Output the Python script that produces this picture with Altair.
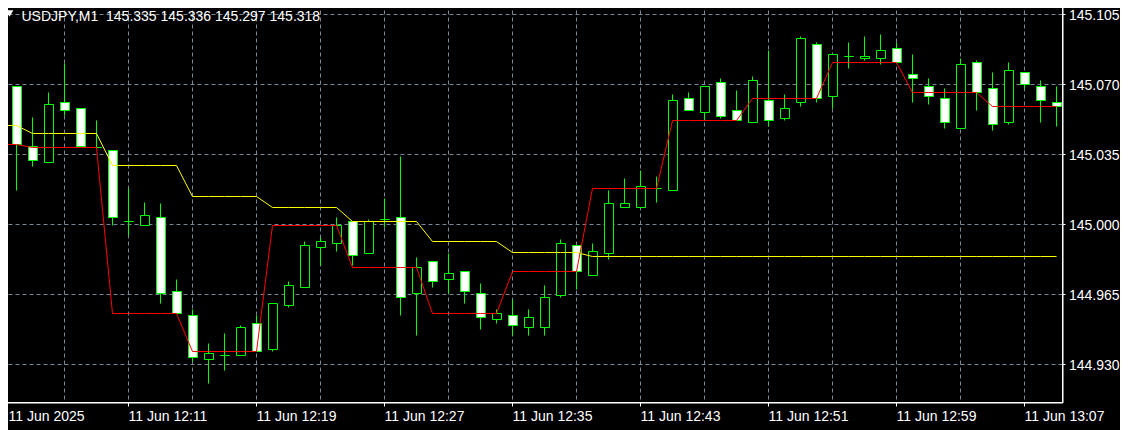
import altair as alt
import pandas as pd

# ---- data (USDJPY M1, candles 12:03 .. 13:09) ----
opens = [145.0675, 145.069, 145.039, 145.031, 145.061, 145.058, 145.0385, 145.037, 145.0015, 144.9995,
         145.0035, 144.9665, 144.9545, 144.9325, 144.9345, 144.9345, 144.9505, 144.9375, 144.9595, 144.9685,
         144.9885, 144.9905, 145.0015, 144.9855, 145.0025, 145.0035, 144.9655, 144.9815, 144.9725, 144.9765,
         144.9655, 144.9525, 144.9545, 144.9485, 144.9485, 144.9645, 144.9895, 144.9745, 144.9855, 145.0085,
         145.0085, 145.018, 145.017, 145.063, 145.056, 145.071, 145.057, 145.051, 145.062, 145.053,
         145.061, 145.090, 145.064, 145.084, 145.083, 145.083, 145.088, 145.075, 145.069, 145.063,
         145.048, 145.081, 145.068, 145.051, 145.076, 145.069, 145.061]
highs = [145.071, 145.069, 145.0535, 145.066, 145.0805, 145.058, 145.052, 145.037, 145.018, 145.011,
         145.0105, 144.9725, 144.9575, 144.9405, 144.9455, 144.9495, 144.9545, 144.9605, 144.9715, 144.9915,
         144.9935, 145.0035, 145.0015, 145.0025, 145.013, 145.034, 144.9835, 144.9815, 144.9855, 144.9765,
         144.9705, 144.9575, 144.9625, 144.9575, 144.9695, 144.9925, 144.9895, 144.9905, 145.017, 145.023,
         145.027, 145.024, 145.065, 145.066, 145.069, 145.073, 145.067, 145.074, 145.087, 145.065,
         145.094, 145.091, 145.085, 145.091, 145.094, 145.095, 145.091, 145.085, 145.073, 145.068,
         145.083, 145.082, 145.076, 145.081, 145.076, 145.072, 145.069]
lows = [145.0635, 145.017, 145.029, 145.031, 145.0545, 145.039, 145.038, 144.9995, 144.9945, 144.9995,
        144.9605, 144.9555, 144.9315, 144.9205, 144.927, 144.9345, 144.9365, 144.9365, 144.9585, 144.9685,
        144.9795, 144.9865, 144.9795, 144.9855, 144.9985, 144.9545, 144.9445, 144.9685, 144.9655, 144.9605,
        144.9475, 144.9505, 144.9445, 144.9445, 144.9445, 144.9635, 144.9675, 144.9745, 144.9825, 145.0085,
        145.0085, 145.011, 145.017, 145.057, 145.052, 145.053, 145.052, 145.051, 145.049, 145.052,
        145.059, 145.061, 145.058, 145.078, 145.082, 145.080, 145.081, 145.061, 145.060, 145.048,
        145.048, 145.057, 145.047, 145.050, 145.068, 145.051, 145.049]
closes = [145.068, 145.040, 145.032, 145.060, 145.057, 145.039, 145.0385, 145.0035, 145.0015, 145.0045,
          144.9655, 144.9555, 144.9335, 144.9355, 144.9345, 144.9485, 144.9365, 144.9605, 144.9695, 144.9895,
          144.9915, 144.9995, 144.9845, 145.0015, 145.0025, 144.9635, 144.9785, 144.9715, 144.9755, 144.9665,
          144.9535, 144.9555, 144.9495, 144.9535, 144.9635, 144.9905, 144.9765, 144.9865, 145.0105, 145.0105,
          145.019, 145.018, 145.062, 145.057, 145.069, 145.054, 145.052, 145.072, 145.052, 145.058,
          145.093, 145.063, 145.085, 145.084, 145.084, 145.087, 145.081, 145.073, 145.064, 145.051,
          145.080, 145.066, 145.050, 145.077, 145.070, 145.062, 145.059]
red_line = [145.040, 145.040,
            145.0385, 145.0385, 145.0385, 145.0385, 145.0385,
            144.9555, 144.9555, 144.9555, 144.9555, 144.9555,
            144.9365, 144.9365, 144.9365, 144.9365, 144.9365,
            144.9995, 144.9995, 144.9995, 144.9995, 144.9995,
            144.9785, 144.9785, 144.9785, 144.9785, 144.9785,
            144.9555, 144.9555, 144.9555, 144.9555, 144.9555,
            144.9765, 144.9765, 144.9765, 144.9765, 144.9765,
            145.018, 145.018, 145.018, 145.018, 145.018,
            145.052, 145.052, 145.052, 145.052, 145.052,
            145.063, 145.063, 145.063, 145.063, 145.063,
            145.081, 145.081, 145.081, 145.081, 145.081,
            145.066, 145.066, 145.066, 145.066, 145.066,
            145.059, 145.059, 145.059, 145.059, 145.059]
yellow_line = [145.0495, 145.0495,
               145.0455, 145.0455, 145.0455, 145.0455, 145.0455,
               145.0295, 145.0295, 145.0295, 145.0295, 145.0295,
               145.014, 145.014, 145.014, 145.014, 145.014,
               145.0085, 145.0085, 145.0085, 145.0085, 145.0085,
               145.0015, 145.0015, 145.0015, 145.0015, 145.0015,
               144.9915, 144.9915, 144.9915, 144.9915, 144.9915,
               144.986, 144.986, 144.986, 144.986, 144.986,
               144.984, 144.984, 144.984, 144.984, 144.984, 144.984, 144.984, 144.984, 144.984, 144.984,
               144.984, 144.984, 144.984, 144.984, 144.984, 144.984, 144.984, 144.984, 144.984, 144.984,
               144.984, 144.984, 144.984, 144.984, 144.984, 144.984, 144.984, 144.984, 144.984, 144.984]
time_labels = ["11 Jun 2025", "11 Jun 12:11", "11 Jun 12:19", "11 Jun 12:27", "11 Jun 12:35",
               "11 Jun 12:43", "11 Jun 12:51", "11 Jun 12:59", "11 Jun 13:07"]
time_label_bars = [0, 8, 16, 24, 32, 40, 48, 56, 64]
grid_bars = [4, 8, 12, 16, 20, 24, 28, 32, 36, 40, 44, 48, 52, 56, 60, 64]
price_ticks = [144.930, 144.965, 145.000, 145.035, 145.070, 145.105]
title_text = "USDJPY,M1\u00a0\u00a0145.335 145.336 145.297 145.318"

n = len(opens)
df = pd.DataFrame({
    "i": list(range(n)), "o": opens, "h": highs, "l": lows, "c": closes,
    "red": red_line, "yellow": yellow_line,
})
df["dir"] = ["up" if c > o else "down" for o, c in zip(opens, closes)]

FONT = "Liberation Sans"
xscale = alt.Scale(domain=[0, 66.375], nice=False, zero=False)
yscale = alt.Scale(domain=[144.911, 145.1105], nice=False, zero=False)

# the first label (at the very left edge) is drawn as a separate text so it is not cut by the page margin
label_expr = ("datum.value == 0 ? '' : [" + ",".join("'%s'" % t for t in time_labels)
              + "][round(datum.value/8)]")
xaxis = alt.Axis(values=time_label_bars, labelExpr=label_expr, labelAlign="left",
                 labelBaseline="alphabetic", labelFlush=False, labelOverlap=False,
                 labelPadding=14, tickSize=4, tickColor="white", domainColor="white",
                 labelColor="white", labelFont=FONT, labelFontSize=14, grid=False,
                 title=None, translate=0)
yaxis = alt.Axis(orient="right", values=price_ticks, format=".3f", tickSize=3, labelPadding=3.5,
                 labelOffset=1.5, tickColor="white", domainColor="white", labelColor="white",
                 labelFont=FONT, labelFontSize=14, labelOverlap=False, labelFlush=False,
                 grid=False, title=None, translate=0)

GRID = "#778899"
vgrid = alt.Chart(pd.DataFrame({"i": grid_bars})).mark_rule(
    color=GRID, strokeWidth=1, strokeDash=[4, 3], clip=True
).encode(x=alt.X("i:Q", scale=xscale, axis=xaxis))
hgrid = alt.Chart(pd.DataFrame({"l": price_ticks})).mark_rule(
    color=GRID, strokeWidth=1, strokeDash=[4, 3], clip=True
).encode(y=alt.Y("l:Q", scale=yscale, axis=yaxis))

base = alt.Chart(df)
wicks = base.mark_rule(color="#00ff00", strokeWidth=1, clip=True).encode(
    x=alt.X("i:Q", scale=xscale, axis=xaxis),
    y=alt.Y("l:Q", scale=yscale, axis=yaxis),
    y2="h:Q",
)
bodies = base.transform_calculate(
    x0="datum.i - 0.25", x1="datum.i + 0.3125"
).mark_rect(stroke="#00ff00", strokeWidth=1, clip=True).encode(
    x=alt.X("x0:Q", scale=xscale, axis=xaxis),
    x2="x1:Q",
    y=alt.Y("o:Q", scale=yscale, axis=yaxis),
    y2="c:Q",
    fill=alt.Fill("dir:N", scale=alt.Scale(domain=["up", "down"], range=["#000000", "#ffffff"]),
                  legend=None),
)
yellow = base.mark_line(color="#ffff00", strokeWidth=1, clip=True).encode(
    x=alt.X("i:Q", scale=xscale, axis=xaxis),
    y=alt.Y("yellow:Q", scale=yscale, axis=yaxis),
)
red = base.mark_line(color="#ff0000", strokeWidth=1, clip=True).encode(
    x=alt.X("i:Q", scale=xscale, axis=xaxis),
    y=alt.Y("red:Q", scale=yscale, axis=yaxis),
)
title_df = pd.DataFrame({"t": [title_text]})
title = alt.Chart(title_df).mark_text(
    align="left", baseline="alphabetic", color="white", font=FONT, fontSize=14
).encode(text="t:N", x=alt.value(21), y=alt.value(17.5))
tri = alt.Chart(title_df).mark_point(
    shape="triangle-down", filled=True, color="white", opacity=1, size=60
).encode(x=alt.value(9), y=alt.value(10))
first_label = alt.Chart(pd.DataFrame({"t": time_labels[:1]})).mark_text(
    align="left", baseline="alphabetic", color="white", font=FONT, fontSize=14
).encode(text="t:N", x=alt.value(8), y=alt.value(417))

chart = alt.layer(vgrid, hgrid, wicks, bodies, yellow, red, title, tri, first_label).properties(
    width=1062, height=399,
    autosize=alt.AutoSizeParams(type="none"),
    padding={"left": -7.5, "top": -4.5, "right": 57.5, "bottom": 27.5},
).configure(background="black").configure_view(stroke="white", strokeWidth=1)

chart.save("out.html", embed_options={"renderer": "svg", "actions": False})
